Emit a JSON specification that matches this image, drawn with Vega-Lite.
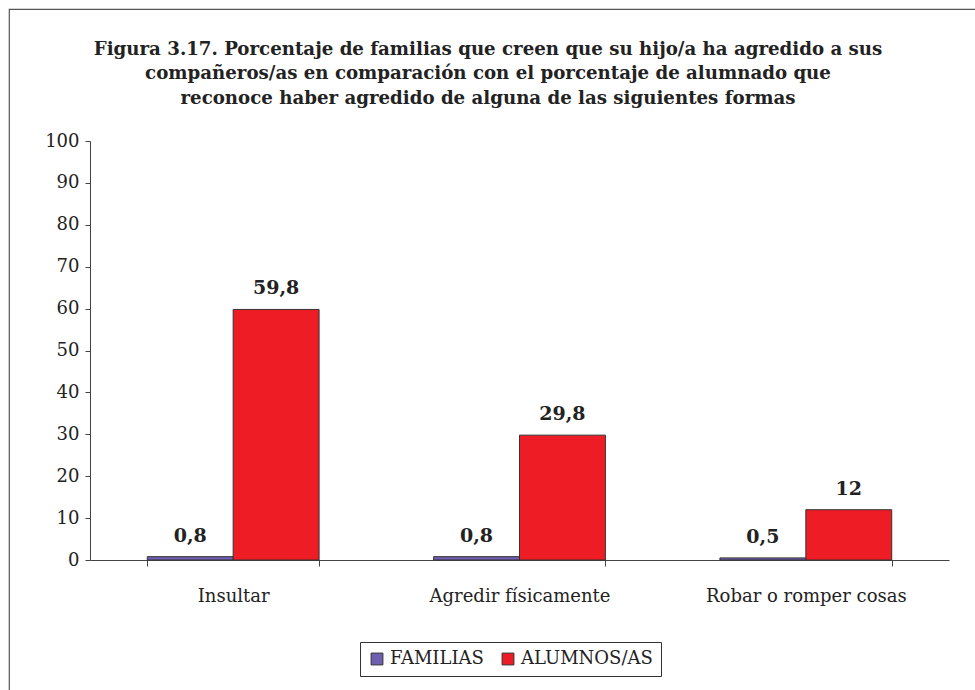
{
  "$schema": "https://vega.github.io/schema/vega-lite/v6.json",
  "autosize": "none",
  "width": 1000,
  "height": 700,
  "padding": {"left": 9, "top": 9, "right": 0, "bottom": 0},
  "background": "white",
  "config": {
    "view": {"stroke": "#555555", "strokeWidth": 1.2},
    "font": "DejaVu Serif"
  },
  "title": {
    "text": [
      "Figura 3.17. Porcentaje de familias que creen que su hijo/a ha agredido a sus",
      "compañeros/as en comparación con el porcentaje de alumnado que",
      "reconoce haber agredido de alguna de las siguientes formas"
    ],
    "font": "DejaVu Serif",
    "fontSize": 18.2,
    "fontWeight": "bold",
    "color": "#222222",
    "lineHeight": 24.5,
    "anchor": "middle",
    "frame": "group",
    "dx": -21,
    "offset": -99
  },
  "data": {
    "values": [
      {"categoria": "Insultar", "serie": "FAMILIAS", "valor": 0.8, "etiqueta": "0,8"},
      {"categoria": "Insultar", "serie": "ALUMNOS/AS", "valor": 59.8, "etiqueta": "59,8"},
      {"categoria": "Agredir físicamente", "serie": "FAMILIAS", "valor": 0.8, "etiqueta": "0,8"},
      {"categoria": "Agredir físicamente", "serie": "ALUMNOS/AS", "valor": 29.8, "etiqueta": "29,8"},
      {"categoria": "Robar o romper cosas", "serie": "FAMILIAS", "valor": 0.5, "etiqueta": "0,5"},
      {"categoria": "Robar o romper cosas", "serie": "ALUMNOS/AS", "valor": 12, "etiqueta": "12"}
    ]
  },
  "encoding": {
    "x": {
      "field": "categoria",
      "type": "nominal",
      "sort": ["Insultar", "Agredir físicamente", "Robar o romper cosas"],
      "title": null,
      "scale": {"range": [81, 940], "paddingInner": 0.4, "paddingOuter": 0.2},
      "axis": {
        "orient": "bottom",
        "offset": -149,
        "labelAngle": 0,
        "labelLimit": 0,
        "labelFont": "DejaVu Serif",
        "labelFontSize": 18,
        "labelColor": "#222222",
        "labelPadding": 21,
        "tickBand": "extent",
        "tickSize": 6,
        "tickColor": "#444444",
        "domainColor": "#444444",
        "grid": false
      }
    },
    "xOffset": {"field": "serie", "type": "nominal", "sort": ["FAMILIAS", "ALUMNOS/AS"]},
    "y": {
      "field": "valor",
      "type": "quantitative",
      "title": null,
      "scale": {"domain": [0, 100], "range": [551, 132], "nice": false},
      "axis": {
        "orient": "left",
        "offset": -81,
        "values": [0, 10, 20, 30, 40, 50, 60, 70, 80, 90, 100],
        "labelFont": "DejaVu Serif",
        "labelFontSize": 18,
        "labelColor": "#222222",
        "labelPadding": 6,
        "tickSize": 5,
        "tickColor": "#444444",
        "domainColor": "#444444",
        "grid": false
      }
    }
  },
  "layer": [
    {
      "mark": {"type": "bar", "stroke": "#333333", "strokeWidth": 1},
      "encoding": {
        "color": {
          "field": "serie",
          "type": "nominal",
          "sort": ["FAMILIAS", "ALUMNOS/AS"],
          "scale": {"domain": ["FAMILIAS", "ALUMNOS/AS"], "range": ["#6F5FB0", "#EE1C25"]},
          "legend": {
            "title": null,
            "orient": "none",
            "direction": "horizontal",
            "legendX": 351,
            "legendY": 633,
            "strokeColor": "#333333",
            "padding": 8,
            "symbolType": "square",
            "symbolSize": 140,
            "symbolStrokeColor": "#333333",
            "symbolStrokeWidth": 1,
            "labelFont": "DejaVu Serif",
            "labelFontSize": 18,
            "labelColor": "#222222",
            "columnPadding": 15
          }
        }
      }
    },
    {
      "mark": {"type": "text", "font": "DejaVu Serif", "fontSize": 19, "fontWeight": "bold", "color": "#222222", "baseline": "alphabetic", "dy": -15},
      "encoding": {
        "text": {"field": "etiqueta"}
      }
    }
  ]
}
